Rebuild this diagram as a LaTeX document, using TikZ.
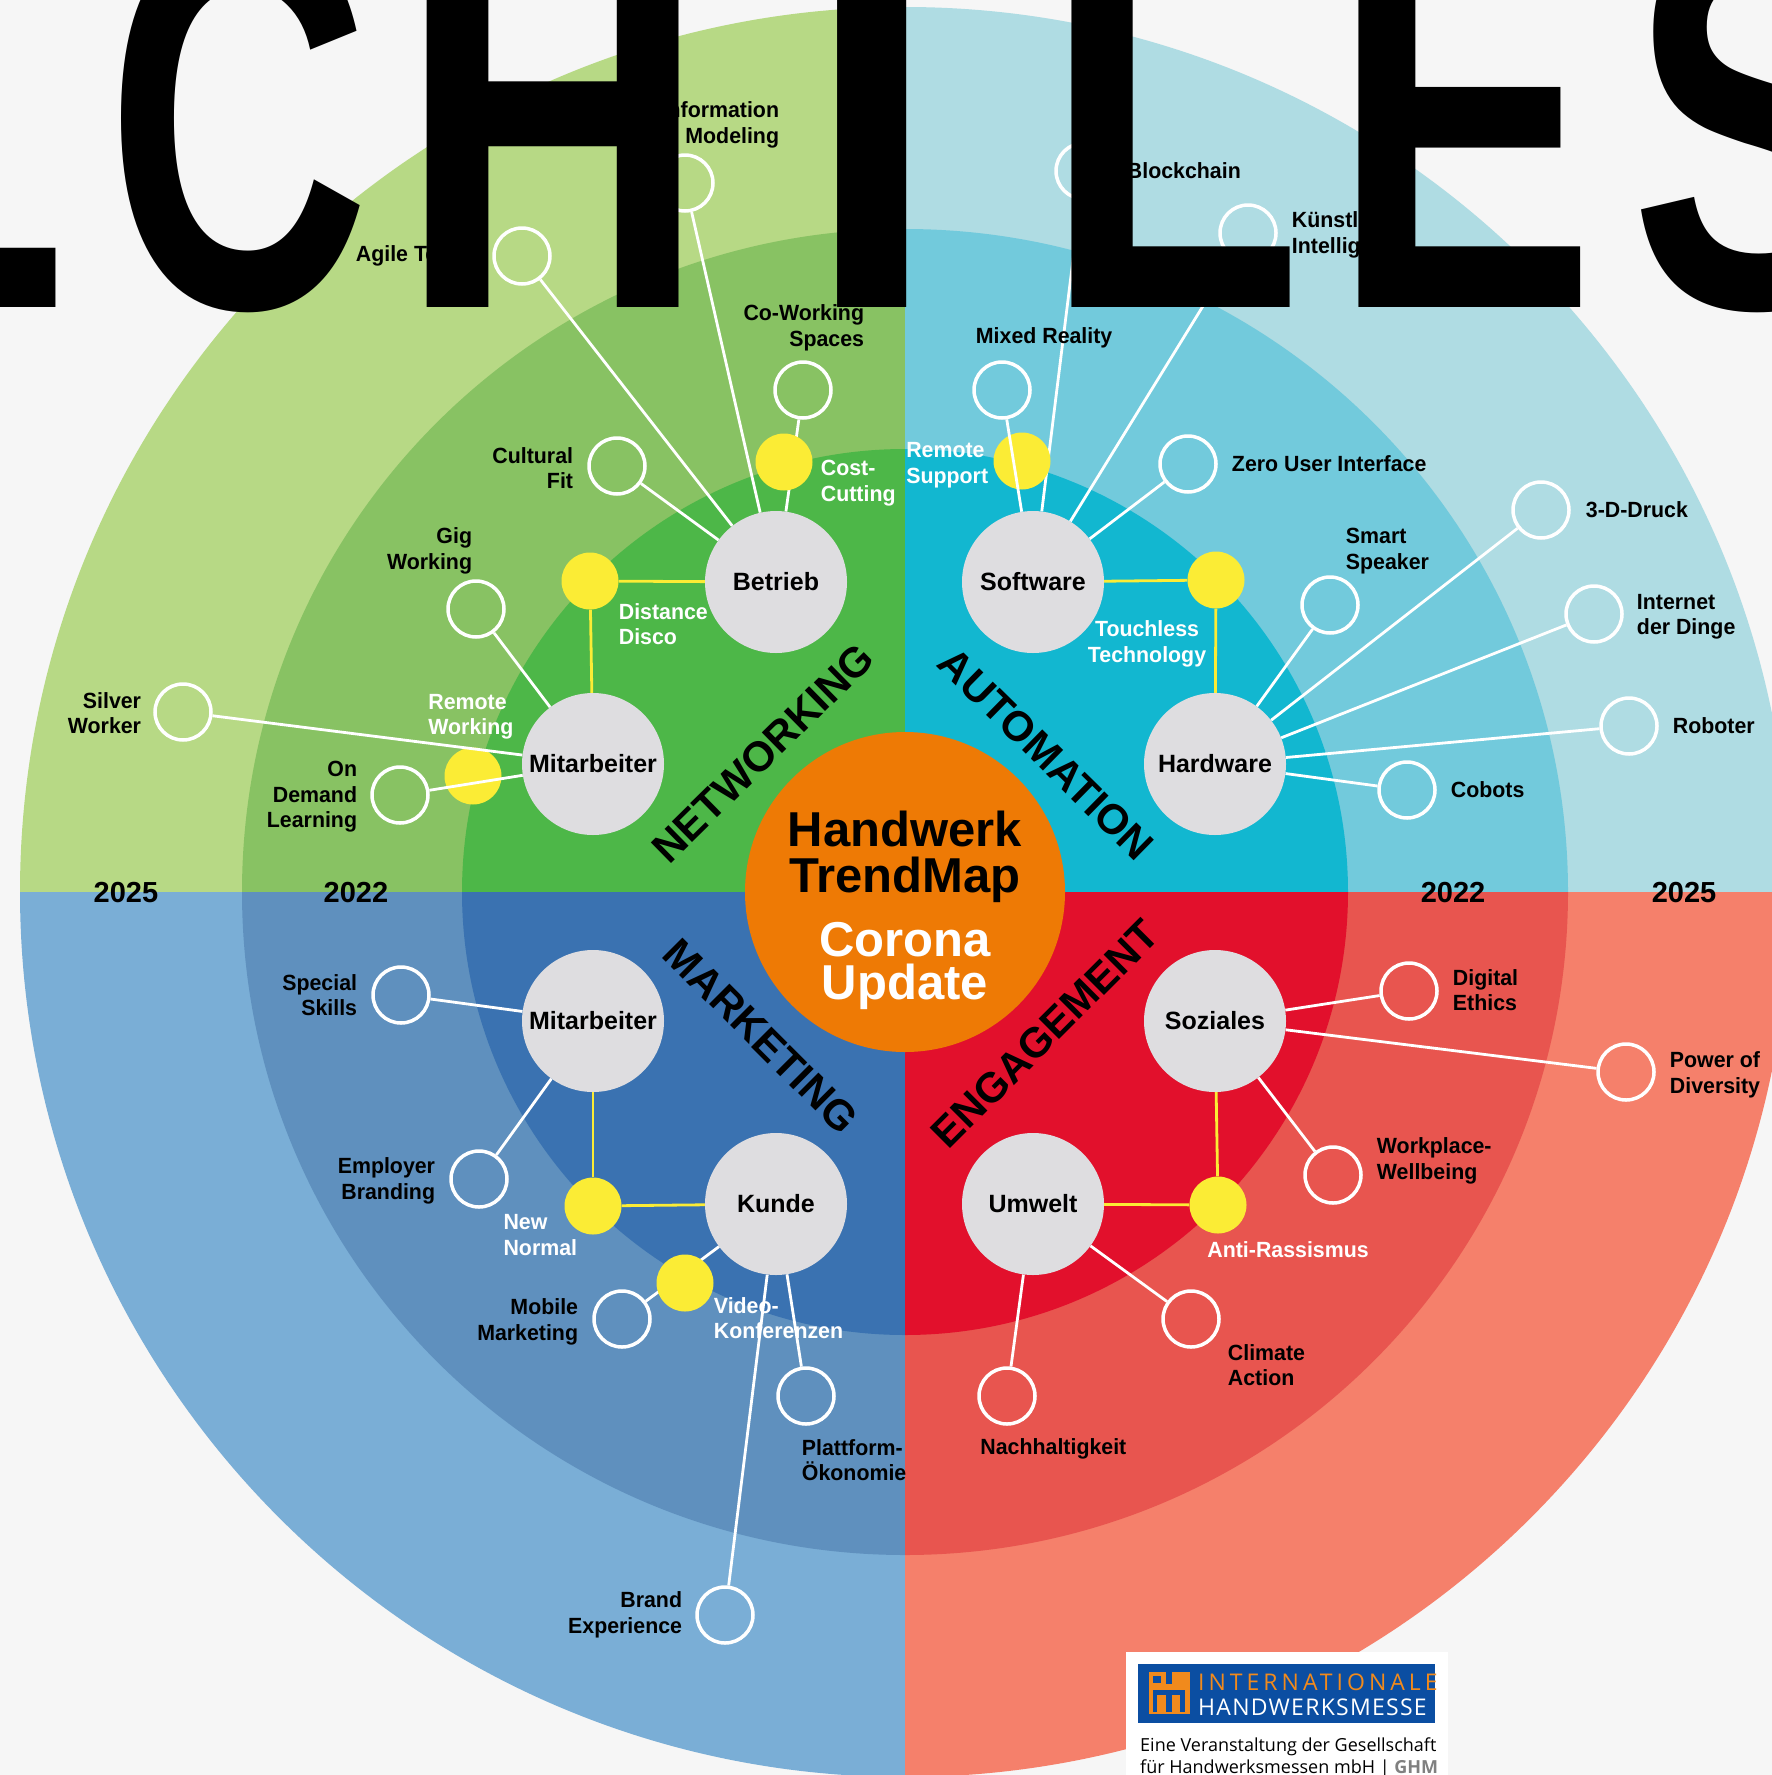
\documentclass[tikz,border=0pt]{standalone}
\usepackage{fontspec}
\usepackage{tikz}
\usetikzlibrary{positioning}
\setmainfont{Liberation Sans}
\newfontfamily\labelfont[FakeStretch=0.97]{Liberation Sans}
\newfontfamily\logofont{Open Sans}
\definecolor{pagebg}{HTML}{F6F6F6}
\definecolor{greenA}{HTML}{B7D985}
\definecolor{greenB}{HTML}{88C263}
\definecolor{greenC}{HTML}{4DB748}
\definecolor{tealA}{HTML}{AFDCE3}
\definecolor{tealB}{HTML}{72CADC}
\definecolor{tealC}{HTML}{12B7D0}
\definecolor{blueA}{HTML}{7AAED6}
\definecolor{blueB}{HTML}{5F90BE}
\definecolor{blueC}{HTML}{3A72B1}
\definecolor{redA}{HTML}{F5806B}
\definecolor{redB}{HTML}{E8554F}
\definecolor{redC}{HTML}{E2102C}
\definecolor{hubgray}{HTML}{DEDDE0}
\definecolor{dotyellow}{HTML}{FBEC35}
\definecolor{centerorange}{HTML}{EE7A05}
\definecolor{logoblue}{HTML}{0B4EA2}
\definecolor{logoorange}{HTML}{F18A1C}
\begin{document}
\begin{tikzpicture}[x=1pt,y=-1pt,
    hub/.style={circle,fill=hubgray,minimum size=142pt,inner sep=0pt,font=\bfseries\fontsize{25}{25}\selectfont},
    ring/.style={circle,draw=white,line width=3.5pt,minimum size=56pt,inner sep=0pt},
    dot/.style={circle,fill=dotyellow,minimum size=57pt,inner sep=0pt},
    link/.style={draw=white,line width=2.8pt},
    yellowlink/.style={draw=dotyellow,line width=2.8pt},
    lbl/.style={font=\labelfont\bfseries\fontsize{22}{25.5}\selectfont,inner sep=0pt,align=left},
    rlbl/.style={lbl,align=right},
    wlbl/.style={lbl,text=white},
    year/.style={font=\bfseries\fontsize{29}{29}\selectfont,inner sep=0pt},
    theme/.style={font=\bfseries\fontsize{42}{42}\selectfont,inner sep=0pt},
    bigletter/.style={font=\bfseries\fontsize{545}{545}\selectfont,inner sep=0pt,anchor=base},
    logocaps/.style={anchor=base west,inner sep=0pt,font=\logofont\fontsize{23}{23}\selectfont},
    logotext/.style={anchor=base west,inner sep=0pt,font=\logofont\fontsize{18}{18}\selectfont}]
  \useasboundingbox (0,0) rectangle (1772,1775);
  \clip (0,0) rectangle (1772,1775);
  \fill[pagebg] (0,0) rectangle (1772,1775);

  \foreach \qx/\qy/\ca/\cb/\cc in {0/0/greenA/greenB/greenC,1772/0/tealA/tealB/tealC,0/1775/blueA/blueB/blueC,1772/1775/redA/redB/redC} {
    \begin{scope}
      \clip (905,892) rectangle (\qx,\qy);
      \fill[\ca] (905,892) circle [radius=885];
      \fill[\cb] (905,892) circle [radius=663];
      \fill[\cc] (905,892) circle [radius=443];
    \end{scope}
  }

  \node [hub] (betrieb) at (776,582) {Betrieb};
  \node [hub] (software) at (1033,582) {Software};
  \node [hub] (mitarbeiterA) at (593,764) {Mitarbeiter};
  \node [hub] (hardware) at (1215,764) {Hardware};
  \node [hub] (mitarbeiterB) at (593,1021) {Mitarbeiter};
  \node [hub] (soziales) at (1215,1021) {Soziales};
  \node [hub] (kunde) at (776,1204) {Kunde};
  \node [hub] (umwelt) at (1033,1204) {Umwelt};

  \node [ring] (info) at (685,183) {};
  \node [ring] (agile) at (522,256) {};
  \node [ring] (cowork) at (803,390) {};
  \node [ring] (cultural) at (617,466) {};
  \node [ring] (gig) at (476,609) {};
  \node [ring] (silver) at (183,712) {};
  \node [ring] (ondemand) at (400,795) {};
  \node [ring] (blockchain) at (1084,171) {};
  \node [ring] (ki) at (1248,233) {};
  \node [ring] (mixed) at (1002,390) {};
  \node [ring] (zero) at (1188,464) {};
  \node [ring] (smart) at (1330,605) {};
  \node [ring] (druck) at (1541,510) {};
  \node [ring] (internet) at (1594,614) {};
  \node [ring] (roboter) at (1629,726) {};
  \node [ring] (cobots) at (1407,790) {};
  \node [ring] (special) at (401,995) {};
  \node [ring] (employer) at (479,1179) {};
  \node [ring] (mobile) at (622,1319) {};
  \node [ring] (plattform) at (806,1396) {};
  \node [ring] (brand) at (725,1615) {};
  \node [ring] (digital) at (1409,991) {};
  \node [ring] (power) at (1626,1072) {};
  \node [ring] (workplace) at (1333,1175) {};
  \node [ring] (climate) at (1191,1319) {};
  \node [ring] (nachhaltig) at (1007,1396) {};

  \foreach \a/\b in {info/betrieb,agile/betrieb,cowork/betrieb,cultural/betrieb,gig/mitarbeiterA,
      blockchain/software,ki/software,zero/software,smart/hardware,druck/hardware,internet/hardware,
      roboter/hardware,cobots/hardware,special/mitarbeiterB,employer/mitarbeiterB,mobile/kunde,
      plattform/kunde,brand/kunde,digital/soziales,power/soziales,workplace/soziales,
      climate/umwelt,nachhaltig/umwelt}
    \draw[link] (\a) -- (\b);

  \node [dot] (cost) at (784,462) {};
  \node [dot] (distance) at (590,581) {};
  \node [dot] (remotew) at (473,776) {};
  \node [dot] (remotes) at (1022,461) {};
  \node [dot] (touchless) at (1216,580) {};
  \node [dot] (newnormal) at (593,1206) {};
  \node [dot] (video) at (685,1283) {};
  \node [dot] (anti) at (1218,1205) {};

  \foreach \a/\b in {silver/mitarbeiterA,ondemand/mitarbeiterA,mixed/software}
    \draw[link] (\a) -- (\b);
  \foreach \a/\b in {distance/betrieb,distance/mitarbeiterA,touchless/software,touchless/hardware,
      newnormal/mitarbeiterB,newnormal/kunde,anti/soziales,anti/umwelt}
    \draw[yellowlink] (\a) -- (\b);

  \node [circle,fill=centerorange,minimum size=320pt,inner sep=0pt] (center) at (905,892) {};
  \node [inner sep=0pt,align=center,font=\bfseries\fontsize{49}{46}\selectfont,yshift=-18pt] (centertext) at (center)
    {Handwerk\\TrendMap\\[18pt]\textcolor{white}{Corona}\\[-3pt]\textcolor{white}{Update}};

  \node [theme,rotate=44.5] (networking) at (763,753) {NETWORKING};
  \node [theme,rotate=-44.5] (automation) at (1046,754) {AUTOMATION};
  \node [theme,rotate=-45] (marketing) at (761,1036) {MARKETING};
  \node [theme,rotate=45] (engagement) at (1045,1034) {ENGAGEMENT};

  \node [year] (yearA) at (126,893) {2025};
  \node [year] (yearB) at (356,893) {2022};
  \node [year] (yearC) at (1453,893) {2022};
  \node [year] (yearD) at (1684,893) {2025};

  \node [rlbl,left=-124pt of info,yshift=58pt] (infolbl) {Information\\Modeling};
  \node [rlbl,left=12pt of agile] (agilelbl) {Agile Teams};
  \node [rlbl,left=-91pt of cowork,yshift=62pt] (coworklbl) {Co-Working\\Spaces};
  \node [rlbl,left=14pt of cultural,yshift=-2pt] (culturallbl) {Cultural\\Fit};
  \node [rlbl,left=-26pt of gig,yshift=58pt] (giglbl) {Gig\\Working};
  \node [rlbl,left=12pt of silver,yshift=-1pt] (silverlbl) {Silver\\Worker};
  \node [rlbl,left=13pt of ondemand,yshift=-2pt] (ondemandlbl) {On\\Demand\\Learning};
  \node [wlbl,right=-73.5pt of remotew,yshift=59pt] (remotewlbl) {Remote\\Working};
  \node [wlbl,right=0pt of distance,yshift=-43pt] (distancelbl) {Distance\\Disco};
  \node [wlbl,right=8pt of cost,yshift=-21pt] (costlbl) {Cost-\\Cutting};
  \node [wlbl,left=5pt of remotes,yshift=-4pt] (remoteslbl) {Remote\\Support};
  \node [wlbl,align=center,left=-19pt of touchless,yshift=-64pt] (touchlesslbl) {Touchless\\Technology};
  \node [lbl,right=-56pt of mixed,yshift=52pt] (mixedlbl) {Mixed Reality};
  \node [lbl,right=13pt of blockchain] (blockchainlbl) {Blockchain};
  \node [lbl,right=14pt of ki,yshift=-2pt] (kilbl) {Künstliche\\Intelligenz};
  \node [lbl,right=14pt of zero] (zerolbl) {Zero User Interface};
  \node [lbl,right=-14pt of smart,yshift=54pt] (smartlbl) {Smart\\Speaker};
  \node [lbl,right=15pt of druck] (drucklbl) {3-D-Druck};
  \node [lbl,right=13pt of internet,yshift=-3pt] (internetlbl) {Internet\\der Dinge};
  \node [lbl,right=14pt of roboter] (roboterlbl) {Roboter};
  \node [lbl,right=14pt of cobots] (cobotslbl) {Cobots};
  \node [rlbl,left=14pt of special] (speciallbl) {Special\\Skills};
  \node [rlbl,left=14pt of employer,yshift=-2pt] (employerlbl) {Employer\\Branding};
  \node [wlbl,left=-13pt of newnormal,yshift=-29pt] (newnormallbl) {New\\Normal};
  \node [rlbl,left=14pt of mobile,yshift=-3pt] (mobilelbl) {Mobile\\Marketing};
  \node [wlbl,right=0pt of video,yshift=-35pt] (videolbl) {Video-\\Konferenzen};
  \node [lbl,right=-34pt of plattform,yshift=-64pt] (plattformlbl) {Plattform-\\Ökonomie};
  \node [rlbl,left=13pt of brand] (brandlbl) {Brand\\Experience};
  \node [lbl,right=14pt of digital,yshift=1pt] (digitallbl) {Digital\\Ethics};
  \node [lbl,right=14pt of power,yshift=-3pt] (powerlbl) {Power of\\Diversity};
  \node [lbl,right=14pt of workplace,yshift=14pt] (workplacelbl) {Workplace-\\Wellbeing};
  \node [lbl,right=7pt of climate,yshift=-46pt] (climatelbl) {Climate\\Action};
  \node [lbl,right=-56.5pt of nachhaltig,yshift=-53pt] (nachhaltiglbl) {Nachhaltigkeit};
  \node [wlbl,right=-39.5pt of anti,yshift=-45pt] (antilbl) {Anti-Rassismus};

  \fill[white] (1126,1652) rectangle (1448,1775);
  \fill[logoblue] (1138,1664) rectangle (1435,1723);
  \fill[logoorange] (1149,1672) rectangle (1190,1714);
  \fill[logoblue] (1153,1676) rectangle (1161,1683);
  \fill[logoblue] (1166,1672) rectangle (1172,1684);
  \fill[logoblue] (1153,1690) rectangle (1185,1712);
  \fill[logoorange] (1157,1695) rectangle (1166,1714);
  \fill[logoorange] (1172,1695) rectangle (1180,1714);
  \node [logocaps,text=logoorange] (logotop) at (1198,1690) {\addfontfeature{LetterSpace=17.4}INTERNATIONALE};
  \node [logocaps,text=white] (logobottom) at (1198,1715) {\addfontfeature{LetterSpace=5.5}HANDWERKSMESSE};
  \node [logotext] (logoline) at (1140,1751) {Eine Veranstaltung der Gesellschaft};
  \node [logotext] (logoorg) at (1140,1773) {für Handwerksmessen mbH~|~\textcolor{gray}{\bfseries GHM}};

  \foreach \xpos/\nm/\ltr/\sx/\sy in {27/stop/./0.75/0.73,238/c/C/0.67/1,553/h/H/0.786/1,872/i/I/0.88/1,
      1173/l/L/0.78/1,1464/e/E/0.725/1,1758/s/S/0.7/1}
    \node [bigletter] (letter\nm) at (\xpos,307) {\scalebox{\sx}[\sy]{\ltr}};
\end{tikzpicture}
\end{document}
